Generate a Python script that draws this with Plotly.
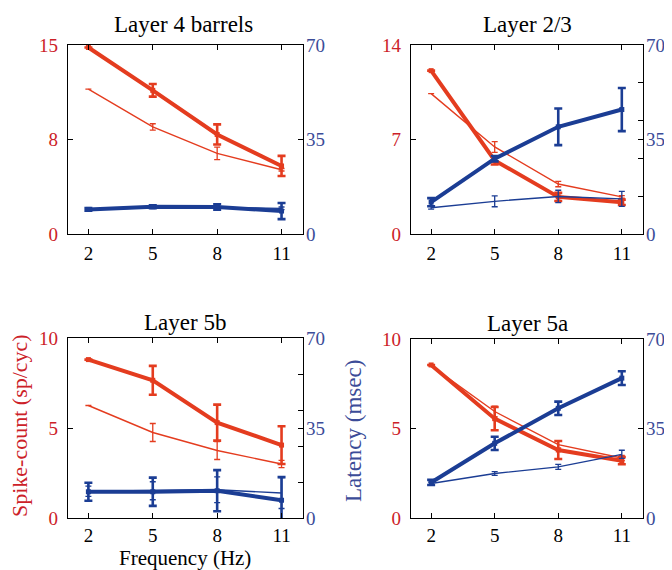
import plotly.graph_objects as go

freq = [2, 5, 8, 11]
titles = ["Layer 4 barrels", "Layer 2/3", "Layer 5b", "Layer 5a"]

# Layer 4 barrels
l4_spk_thick = [14.8, 11.4, 7.9, 5.4];   l4_spk_thick_err = [0, 0.5, 0.8, 0.8]
l4_spk_thin = [11.5, 8.5, 6.4, 5.1];     l4_spk_thin_err = [0, 0.25, 0.5, 0.1]
l4_lat_thick = [9.1, 10.1, 10.0, 8.5];   l4_lat_thick_err = [0.5, 0.5, 1.0, 3.0]
l4_lat_thin = [9.0, 9.8, 9.8, 9.5];      l4_lat_thin_err = [0, 0.3, 0.5, 0.5]

# Layer 2/3
l23_spk_thick = [12.1, 5.45, 2.75, 2.35]; l23_spk_thick_err = [0, 0.3, 0.3, 0.2]
l23_spk_thin = [10.4, 6.45, 3.7, 2.75];   l23_spk_thin_err = [0, 0.4, 0.2, 0.1]
l23_lat_thick = [11.8, 27.9, 39.7, 46.1]; l23_lat_thick_err = [1.5, 1.0, 6.8, 8.0]
l23_lat_thin = [9.7, 12.1, 13.9, 13.0];   l23_lat_thin_err = [0.5, 2.0, 2.3, 2.8]

# Layer 5b
l5b_spk_thick = [8.8, 7.65, 5.3, 4.05];   l5b_spk_thick_err = [0, 0.8, 1.0, 1.05]
l5b_spk_thin = [6.25, 4.75, 3.75, 3.0];   l5b_spk_thin_err = [0, 0.5, 0.5, 0.2]
l5b_lat_thick = [10.2, 10.2, 10.6, 6.9];  l5b_lat_thick_err = [3.5, 5.5, 8.0, 9.0]
l5b_lat_thin = [10.4, 10.6, 11.0, 9.7];   l5b_lat_thin_err = [2.0, 3.5, 5.0, 6.0]

# Layer 5a
l5a_spk_thick = [8.55, 5.55, 3.8, 3.2];   l5a_spk_thick_err = [0, 0.65, 0.5, 0.2]
l5a_spk_thin = [8.5, 5.95, 4.1, 3.35];    l5a_spk_thin_err = [0, 0.3, 0.2, 0.15]
l5a_lat_thick = [13.9, 29.2, 42.9, 54.7]; l5a_lat_thick_err = [1.0, 2.6, 2.6, 2.7]
l5a_lat_thin = [13.5, 17.4, 20.0, 24.9];  l5a_lat_thin_err = [0.5, 0.7, 1.0, 1.6]

left_ranges = [15, 14, 10, 10]
left_tickvals = [[0, 7.5, 15], [0, 7, 14], [0, 5, 10], [0, 5, 10]]
left_ticktext = [["0", "8", "15"], ["0", "7", "14"], ["0", "5", "10"], ["0", "5", "10"]]
right_tickvals = [[0, 35, 70], [0, 14, 28, 35, 42, 56, 70], [0, 14, 28, 35, 42, 56, 70], [0, 35, 70]]
right_ticktext = [["0", "35", "70"], ["0", "", "", "35", "", "", "70"],
                  ["0", "", "", "35", "", "", "70"], ["0", "35", "70"]]

panels = [
    (l4_spk_thick, l4_spk_thick_err, l4_spk_thin, l4_spk_thin_err,
     l4_lat_thick, l4_lat_thick_err, l4_lat_thin, l4_lat_thin_err),
    (l23_spk_thick, l23_spk_thick_err, l23_spk_thin, l23_spk_thin_err,
     l23_lat_thick, l23_lat_thick_err, l23_lat_thin, l23_lat_thin_err),
    (l5b_spk_thick, l5b_spk_thick_err, l5b_spk_thin, l5b_spk_thin_err,
     l5b_lat_thick, l5b_lat_thick_err, l5b_lat_thin, l5b_lat_thin_err),
    (l5a_spk_thick, l5a_spk_thick_err, l5a_spk_thin, l5a_spk_thin_err,
     l5a_lat_thick, l5a_lat_thick_err, l5a_lat_thin, l5a_lat_thin_err),
]

W, H = 672, 570
OX, OY = 8, 8  # page body offset of the plot div
RED = "#e43c1f"
BLUE = "#1b3d94"
RED_TXT = "#cc2128"
BLUE_TXT = "#3c4c98"
FONT = "Liberation Serif, Times New Roman, serif"

def px(x):
    return (x - OX) / W

def py(y):
    return 1 - (y - OY) / H

# pixel boxes (left, right, top, bottom) in the final page
boxes = [(68, 303, 45, 234), (411, 643, 45, 234), (68, 303, 338, 518), (411, 643, 339, 518)]

fig = go.Figure()
layout = {}

def trace(x, y, err, color, thick, xa, ya):
    return go.Scatter(
        x=x, y=y, mode="lines+markers" if thick else "lines",
        line=dict(color=color, width=4 if thick else 1.4),
        marker=dict(symbol="square", size=5, color=color),
        error_y=dict(type="data", array=err, visible=True, color=color,
                     thickness=2.6 if thick else 1.3, width=4 if thick else 3),
        xaxis=xa, yaxis=ya, showlegend=False, cliponaxis=False, hoverinfo="skip")

for i, (p, box) in enumerate(zip(panels, boxes)):
    n = i + 1
    xa = "x" if n == 1 else f"x{n}"
    ya = "y" if n == 1 else f"y{n}"
    yr = f"y{n + 4}"
    l, r, t, b = box
    xd = [px(l), px(r)]
    yd = [py(b), py(t)]
    (st, ste, sn, sne, lt, lte, ln, lne) = p
    fig.add_trace(trace(freq, sn, sne, RED, False, xa, ya))
    fig.add_trace(trace(freq, st, ste, RED, True, xa, ya))
    fig.add_trace(trace(freq, ln, lne, BLUE, False, xa, yr))
    fig.add_trace(trace(freq, lt, lte, BLUE, True, xa, yr))

    layout["xaxis" if n == 1 else f"xaxis{n}"] = dict(
        domain=xd, range=[1.05, 12.0], anchor=ya, tickvals=freq,
        ticks="inside", ticklen=5, tickcolor="black", mirror="ticks",
        showline=True, linecolor="black", linewidth=1.2, showgrid=False,
        zeroline=False, tickfont=dict(family=FONT, size=19, color="black"),
        ticklabelstandoff=2 if n <= 2 else 0, automargin=False)
    layout["yaxis" if n == 1 else f"yaxis{n}"] = dict(
        domain=yd, range=[0, left_ranges[i]], anchor=xa, side="left",
        tickvals=left_tickvals[i], ticktext=left_ticktext[i],
        ticks="inside", ticklen=5, tickcolor="black", mirror=True,
        showline=True, linecolor="black", linewidth=1.2, showgrid=False,
        zeroline=False, tickfont=dict(family=FONT, size=19, color=RED_TXT),
        ticklabelstandoff=5, automargin=False)
    layout[f"yaxis{n + 4}"] = dict(
        range=[0, 70], anchor=xa, overlaying=ya, side="right",
        tickvals=right_tickvals[i], ticktext=right_ticktext[i],
        ticks="inside", ticklen=5, tickcolor="black",
        showline=False, showgrid=False, zeroline=False,
        tickfont=dict(family=FONT, size=19, color=BLUE_TXT),
        ticklabelstandoff=2, automargin=False)

annotations = []
title_pos = [(183, 25), (527, 25), (185, 322), (527, 323)]
for ttl, (cx, cy) in zip(titles, title_pos):
    annotations.append(dict(text=ttl, x=px(cx), y=py(cy), xref="paper", yref="paper",
                            showarrow=False, xanchor="center", yanchor="middle",
                            font=dict(family=FONT, size=23, color="black")))
annotations.append(dict(text="Spike-count (sp/cyc)", x=px(20), y=py(426),
                        xref="paper", yref="paper", showarrow=False, textangle=-90,
                        xanchor="center", yanchor="middle",
                        font=dict(family=FONT, size=22, color=RED_TXT)))
annotations.append(dict(text="Latency (msec)", x=px(353), y=py(431),
                        xref="paper", yref="paper", showarrow=False, textangle=-90,
                        xanchor="center", yanchor="middle",
                        font=dict(family=FONT, size=23, color=BLUE_TXT)))
annotations.append(dict(text="Frequency (Hz)", x=px(185), y=py(557.5),
                        xref="paper", yref="paper", showarrow=False,
                        xanchor="center", yanchor="middle",
                        font=dict(family=FONT, size=21, color="black")))

fig.update_layout(template="none", width=W, height=H,
                  margin=dict(l=0, r=0, t=0, b=0, pad=0),
                  paper_bgcolor="white", plot_bgcolor="white",
                  annotations=annotations, **layout)

fig.write_html("out.html")
